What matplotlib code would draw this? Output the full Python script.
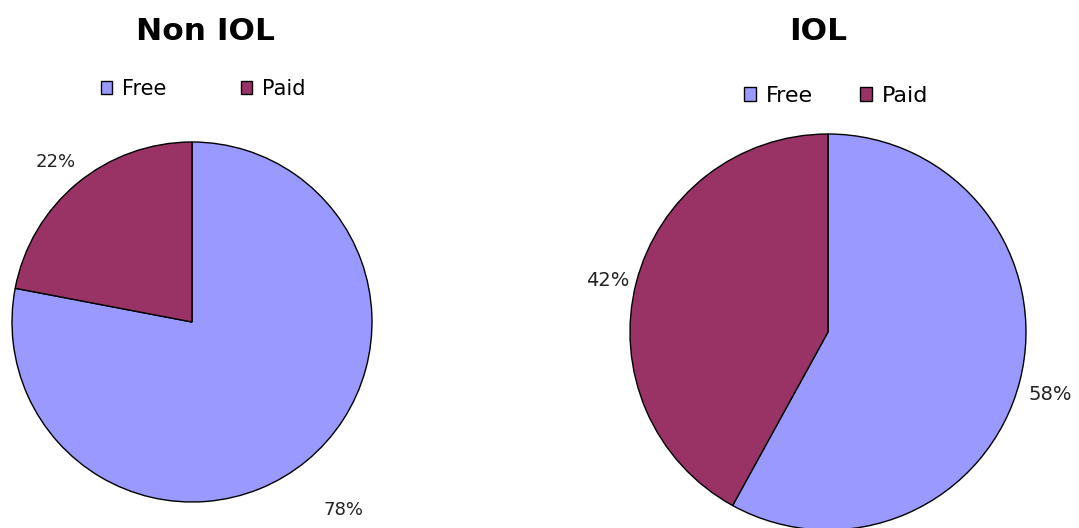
import matplotlib
matplotlib.use("Agg")
import matplotlib.pyplot as plt
import numpy as np
from matplotlib.patches import Rectangle

CATEGORIES = ["Free", "Paid"]
NON_IOL = [78, 22]
IOL = [58, 42]
TITLES = ["Non IOL", "IOL"]
COLORS = ["#9999ff", "#993366"]

W, H = 1079, 528


def px_axes(fig, x0, y0, x1, y1):
    # pixel box (top-left origin) -> figure fraction axes
    return fig.add_axes([x0 / W, 1 - y1 / H, (x1 - x0) / W, (y1 - y0) / H])


def draw_pie(ax, values, label_dist, fontsize):
    wedges, _ = ax.pie(values, colors=COLORS, startangle=90, counterclock=False,
                       radius=1, wedgeprops=dict(edgecolor="black", linewidth=1.0))
    for w, v, d in zip(wedges, values, label_dist):
        ang = np.deg2rad((w.theta1 + w.theta2) / 2)
        ax.annotate(f"{v}%", xy=(d * np.cos(ang), d * np.sin(ang)), xytext=(0, -5),
                    textcoords="offset pixels", ha="center", va="center",
                    fontsize=fontsize, color="#222222", annotation_clip=False)
    ax.set_xlim(-1, 1)
    ax.set_ylim(-1, 1)
    ax.set_aspect("equal")
    ax.axis("off")


def add_legend(fig, cx, cy, fontsize, colspace):
    handles = [Rectangle((0, 0), 1, 1, facecolor=c, edgecolor="black", linewidth=1.0) for c in COLORS]
    fig.legend(handles, CATEGORIES, loc="center", bbox_to_anchor=(cx / W, 1 - cy / H),
               ncol=2, frameon=False, fontsize=fontsize, handlelength=0.55, handleheight=0.55,
               handletextpad=0.45, columnspacing=colspace, borderpad=0)


fig = plt.figure(figsize=(W / 100, H / 100), dpi=100)

ax1 = px_axes(fig, 12, 142, 372, 502)
draw_pie(ax1, NON_IOL, [1.32, 1.19], 13)
ax2 = px_axes(fig, 630, 134, 1026, 530)
draw_pie(ax2, IOL, [1.16, 1.15], 14)

fig.text(205 / W, 1 - 32 / H, TITLES[0], ha="center", va="center", fontsize=22.5, fontweight="bold")
fig.text(818 / W, 1 - 32 / H, TITLES[1], ha="center", va="center", fontsize=22.5, fontweight="bold")

add_legend(fig, 203, 89, 15, 3.6)
add_legend(fig, 836, 96, 16, 2.1)

fig.savefig("out.png", dpi=100)
